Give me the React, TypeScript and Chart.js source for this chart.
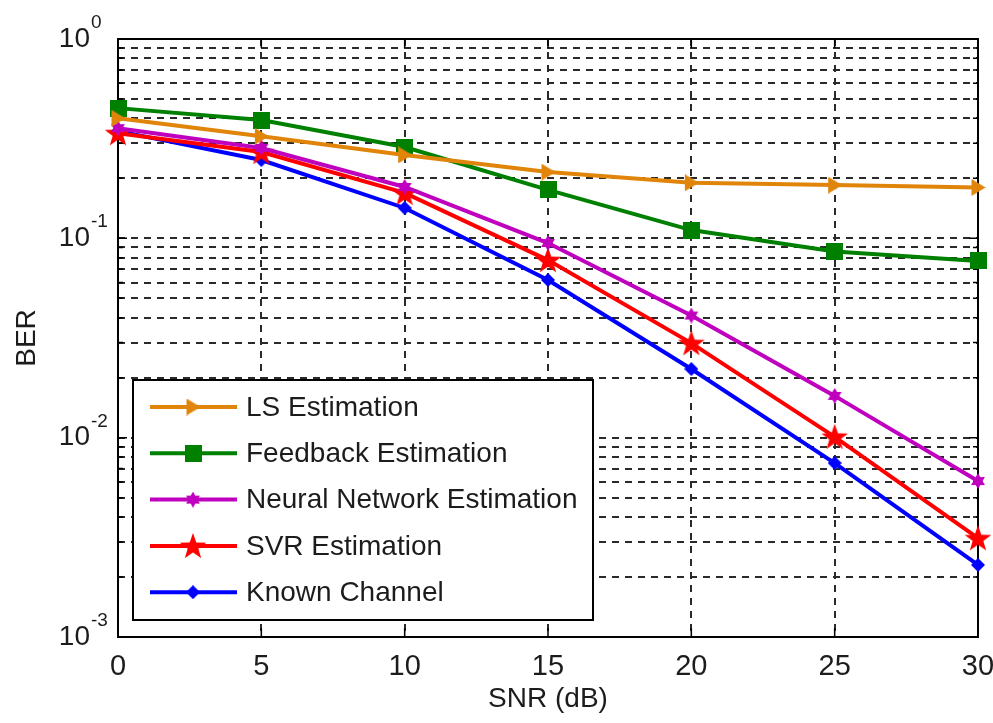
import React, { useEffect, useRef } from 'react';
import { Chart, registerables } from 'chart.js';

Chart.register(...registerables);

const snr = [0, 5, 10, 15, 20, 25, 30];
const lsBer = [0.4, 0.325, 0.262, 0.215, 0.19, 0.185, 0.18];
const feedbackBer = [0.45, 0.392, 0.287, 0.175, 0.11, 0.086, 0.077];
const nnBer = [0.357, 0.284, 0.181, 0.0947, 0.041, 0.0162, 0.00606];
const svrBer = [0.337, 0.271, 0.169, 0.0778, 0.0298, 0.0101, 0.00313];
const knownBer = [0.345, 0.247, 0.142, 0.0618, 0.0221, 0.00746, 0.0023];

const seriesNames = [
  'LS Estimation',
  'Feedback Estimation',
  'Neural Network Estimation',
  'SVR Estimation',
  'Known Channel',
];
const seriesColors = ['#E0850A', '#008000', '#BF00BF', '#FF0000', '#0000FF'];
const seriesMarkers = ['triangleRight', 'square', 'hexagram', 'pentagram', 'diamond'];
const xTickValues = [0, 5, 10, 15, 20, 25, 30];
const yExponents = [-3, -2, -1, 0];
const yMinorMultipliers = [1, 2, 3, 4, 5, 6, 7, 8, 9];

const FONT = '"Liberation Sans", Arial, sans-serif';
const TEXT = '#1c1c1c';
const GRID = '#2a2a2a';

function starPath(ctx: CanvasRenderingContext2D, cx: number, cy: number, n: number, ro: number, ri: number) {
  ctx.beginPath();
  for (let i = 0; i < n * 2; i++) {
    const r = i % 2 === 0 ? ro : ri;
    const a = -Math.PI / 2 + (i * Math.PI) / n;
    const x = cx + r * Math.cos(a);
    const y = cy + r * Math.sin(a);
    if (i === 0) ctx.moveTo(x, y);
    else ctx.lineTo(x, y);
  }
  ctx.closePath();
}

function makeMarker(kind: string, color: string): HTMLCanvasElement {
  const c = document.createElement('canvas');
  let w = 16, h = 16;
  if (kind === 'square') { w = 17; h = 17; }
  if (kind === 'pentagram') { w = 28; h = 28; }
  if (kind === 'hexagram') { w = 16; h = 16; }
  if (kind === 'diamond') { w = 14; h = 14; }
  if (kind === 'triangleRight') { w = 15; h = 17; }
  c.width = w; c.height = h;
  const ctx = c.getContext('2d')!;
  ctx.fillStyle = color;
  if (kind === 'square') {
    ctx.fillRect(0, 0, w, h);
  } else if (kind === 'triangleRight') {
    ctx.beginPath();
    ctx.moveTo(w, h / 2);
    ctx.lineTo(1, 0);
    ctx.lineTo(1, h);
    ctx.closePath();
    ctx.fill();
  } else if (kind === 'diamond') {
    ctx.beginPath();
    ctx.moveTo(w / 2, 0);
    ctx.lineTo(w, h / 2);
    ctx.lineTo(w / 2, h);
    ctx.lineTo(0, h / 2);
    ctx.closePath();
    ctx.fill();
  } else if (kind === 'hexagram') {
    starPath(ctx, w / 2, h / 2, 6, 8, 4.6);
    ctx.fill();
  } else if (kind === 'pentagram') {
    starPath(ctx, w / 2, h / 2 + 1, 5, 14, 5.6);
    ctx.fill();
  }
  return c;
}

export default function App() {
  const ref = useRef<HTMLCanvasElement | null>(null);

  useEffect(() => {
    const canvas = ref.current;
    if (!canvas) return;
    const markers = seriesMarkers.map((m, i) => makeMarker(m, seriesColors[i]));
    const seriesValues = [lsBer, feedbackBer, nnBer, svrBer, knownBer];

    const datasets = seriesValues.map((vals, i) => ({
      label: seriesNames[i],
      data: snr.map((x, j) => ({ x, y: vals[j] })),
      borderColor: seriesColors[i],
      backgroundColor: seriesColors[i],
      borderWidth: 4,
      pointStyle: markers[i] as any,
      pointRadius: 8,
      pointHoverRadius: 8,
      clip: false as any,
      tension: 0,
    }));

    const framePlugin = {
      id: 'frameTicks',
      beforeDatasetsDraw(chart: any) {
        const { ctx, chartArea: ca, scales } = chart;
        ctx.save();
        ctx.strokeStyle = '#000';
        ctx.lineWidth = 2;
        ctx.strokeRect(ca.left, ca.top, ca.right - ca.left, ca.bottom - ca.top);
        ctx.lineWidth = 1.5;
        ctx.beginPath();
        for (const v of xTickValues) {
          const x = scales.x.getPixelForValue(v);
          ctx.moveTo(x, ca.bottom); ctx.lineTo(x, ca.bottom - 9);
          ctx.moveTo(x, ca.top); ctx.lineTo(x, ca.top + 9);
        }
        for (const e of yExponents) {
          for (const m of yMinorMultipliers) {
            const v = m * Math.pow(10, e);
            if (v > 1.0001) continue;
            const y = scales.y.getPixelForValue(v);
            const len = m === 1 ? 9 : 5;
            ctx.moveTo(ca.left, y); ctx.lineTo(ca.left + len, y);
            ctx.moveTo(ca.right, y); ctx.lineTo(ca.right - len, y);
          }
        }
        ctx.stroke();
        // y tick labels with superscript exponents
        ctx.fillStyle = TEXT;
        for (const e of yExponents) {
          const y = scales.y.getPixelForValue(Math.pow(10, e));
          ctx.font = `28px ${FONT}`;
          ctx.textAlign = 'right';
          ctx.textBaseline = 'middle';
          ctx.fillText('10', ca.left - 28, y);
          ctx.font = `19px ${FONT}`;
          ctx.textAlign = 'left';
          ctx.textBaseline = 'alphabetic';
          ctx.fillText(String(e), ca.left - 27, y - 11);
        }
        ctx.restore();
      },
      afterDatasetsDraw(chart: any) {
        const { ctx, chartArea: ca } = chart;
        ctx.save();
        const left = ca.left + 15;
        const width = 460;
        const height = 240;
        const top = ca.bottom - 17 - height;
        ctx.fillStyle = '#fff';
        ctx.fillRect(left, top, width, height);
        ctx.strokeStyle = '#000';
        ctx.lineWidth = 2;
        ctx.strokeRect(left, top, width, height);
        seriesNames.forEach((name, i) => {
          const y = top + 27 + i * 46.3;
          ctx.strokeStyle = seriesColors[i];
          ctx.lineWidth = 4;
          ctx.beginPath();
          ctx.moveTo(left + 17, y);
          ctx.lineTo(left + 104, y);
          ctx.stroke();
          const mk = markers[i];
          ctx.drawImage(mk, left + 60 - mk.width / 2, y - mk.height / 2);
          ctx.fillStyle = TEXT;
          ctx.font = `28px ${FONT}`;
          ctx.textAlign = 'left';
          ctx.textBaseline = 'middle';
          ctx.fillText(name, left + 113, y + 1);
        });
        ctx.restore();
      },
    };

    const chart = new Chart(canvas, {
      type: 'line',
      data: { datasets: datasets as any },
      options: {
        animation: false,
        responsive: false,
        layout: { padding: { top: 39, right: 15, left: 0, bottom: 0 } },
        plugins: {
          legend: { display: false },
          tooltip: { enabled: false },
        },
        scales: {
          x: {
            type: 'linear',
            min: 0,
            max: 30,
            afterFit: (s: any) => { s.height = 86; s.paddingRight = 0; s.paddingLeft = 0; },
            afterBuildTicks: (s: any) => { s.ticks = xTickValues.map((v) => ({ value: v })); },
            ticks: {
              stepSize: 5,
              maxRotation: 0,
              color: TEXT,
              font: { family: FONT, size: 29 },
              padding: 13,
            },
            grid: { color: GRID, lineWidth: 2, drawTicks: false },
            border: { display: false, dash: [7, 6] },
            title: {
              display: true,
              text: 'SNR (dB)',
              color: TEXT,
              font: { family: FONT, size: 28 },
              padding: { top: 0, bottom: 7 },
            },
          },
          y: {
            type: 'logarithmic',
            min: 0.001,
            max: 1,
            afterFit: (s: any) => { s.width = 118; s.paddingTop = 0; s.paddingBottom = 0; },
            afterBuildTicks: (s: any) => {
              const t: any[] = [];
              for (const e of yExponents) {
                for (const m of yMinorMultipliers) {
                  const v = m * Math.pow(10, e);
                  if (v <= 1.0001) t.push({ value: v, major: m === 1 });
                }
              }
              s.ticks = t;
            },
            ticks: { display: false },
            grid: { color: GRID, lineWidth: 2, drawTicks: false },
            border: { display: false, dash: [7, 6] },
            title: {
              display: true,
              text: 'BER',
              color: TEXT,
              font: { family: FONT, size: 28 },
              padding: { top: 10, bottom: 0 },
            },
          },
        },
      },
      plugins: [framePlugin as any],
    });
    return () => chart.destroy();
  }, []);

  return (
    <div style={{ position: 'fixed', left: 0, top: 0, width: 993, height: 723, background: '#fff' }}>
      <canvas ref={ref} width={993} height={723} />
    </div>
  );
}
